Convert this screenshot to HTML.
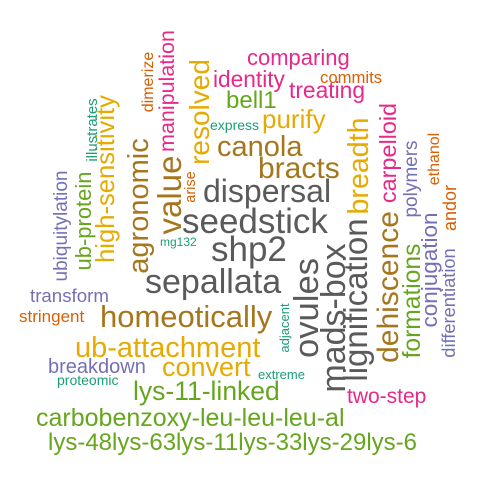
<!DOCTYPE html>
<html><head><meta charset="utf-8"><style>
html,body{margin:0;padding:0;background:#fff;}
svg{display:block;font-family:"Liberation Sans",Arial,sans-serif;}
</style></head><body>
<svg width="500" height="500" viewBox="0 0 500 500">
<g>
<text x="182" y="233" font-size="35" fill="#5a5a5a">seedstick</text>
<text x="211" y="261" font-size="35" fill="#5a5a5a">shp2</text>
<text x="203" y="202" font-size="32" fill="#5a5a5a">dispersal</text>
<text x="145" y="293" font-size="34" fill="#5a5a5a">sepallata</text>
<text x="100" y="327" font-size="31" fill="#A6761D">homeotically</text>
<text x="75" y="357" font-size="29" fill="#E6AB02">ub-attachment</text>
<text x="162" y="376" font-size="27" fill="#E6AB02">convert</text>
<text x="48" y="373" font-size="20" fill="#7570B3">breakdown</text>
<text x="57" y="385" font-size="14" fill="#1B9E77">proteomic</text>
<text x="258" y="379" font-size="13" fill="#1B9E77">extreme</text>
<text x="133" y="400" font-size="26.5" fill="#66A61E">lys-11-linked</text>
<text x="347" y="403" font-size="21" fill="#E7298A">two-step</text>
<text x="36" y="426" font-size="25" fill="#66A61E">carbobenzoxy-leu-leu-leu-al</text>
<text x="48" y="450" font-size="24" fill="#66A61E">lys-48lys-63lys-11lys-33lys-29lys-6</text>
<text x="30" y="302" font-size="18.7" fill="#7570B3">transform</text>
<text x="19" y="322" font-size="17" fill="#D95F02">stringent</text>
<text x="217" y="156" font-size="29" fill="#A6761D">canola</text>
<text x="258" y="178" font-size="30" fill="#A6761D">bracts</text>
<text x="262" y="128" font-size="26" fill="#E6AB02">purify</text>
<text x="210" y="130" font-size="14" fill="#1B9E77">express</text>
<text x="226" y="108" font-size="24" fill="#66A61E">bell1</text>
<text x="213" y="87" font-size="22.7" fill="#E7298A">identity</text>
<text x="289" y="98" font-size="22.8" fill="#E7298A">treating</text>
<text x="320" y="83" font-size="16.7" fill="#D95F02">commits</text>
<text x="247" y="65" font-size="22" fill="#E7298A">comparing</text>
<text x="160" y="246" font-size="12" fill="#1B9E77">mg132</text>
</g>
<g text-anchor="middle">
<text transform="translate(148,206) rotate(-90)" font-size="29" fill="#A6761D">agronomic</text>
<text transform="translate(181,195) rotate(-90)" font-size="33" fill="#A6761D">value</text>
<text transform="translate(114,179) rotate(-90)" font-size="25.6" fill="#E6AB02">high-sensitivity</text>
<text transform="translate(91,221) rotate(-90)" font-size="22" fill="#66A61E">ub-protein</text>
<text transform="translate(67,226) rotate(-90)" font-size="19" fill="#7570B3">ubiquitylation</text>
<text transform="translate(97,130) rotate(-90)" font-size="15" fill="#1B9E77">illustrates</text>
<text transform="translate(153,82) rotate(-90)" font-size="16" fill="#D95F02">dimerize</text>
<text transform="translate(174,91) rotate(-90)" font-size="21.5" fill="#E7298A">manipulation</text>
<text transform="translate(209,112) rotate(-90)" font-size="28" fill="#E6AB02">resolved</text>
<text transform="translate(195,187) rotate(-90)" font-size="14.5" fill="#D95F02">arise</text>
<text transform="translate(368,166) rotate(-90)" font-size="28.6" fill="#E6AB02">breadth</text>
<text transform="translate(396,153) rotate(-90)" font-size="23.4" fill="#E7298A">carpelloid</text>
<text transform="translate(417,179) rotate(-90)" font-size="19" fill="#7570B3">polymers</text>
<text transform="translate(439,159) rotate(-90)" font-size="16" fill="#D95F02">ethanol</text>
<text transform="translate(456,208) rotate(-90)" font-size="18" fill="#D95F02">andor</text>
<text transform="translate(437,270) rotate(-90)" font-size="22.5" fill="#7570B3">conjugation</text>
<text transform="translate(455,303) rotate(-90)" font-size="18.3" fill="#7570B3">differentiation</text>
<text transform="translate(420,301) rotate(-90)" font-size="24.6" fill="#66A61E">formations</text>
<text transform="translate(398,287) rotate(-90)" font-size="30" fill="#A6761D">dehiscence</text>
<text transform="translate(367,300) rotate(-90)" font-size="33" fill="#5a5a5a">lignification</text>
<text transform="translate(345,318) rotate(-90)" font-size="34" fill="#5a5a5a">mads-box</text>
<text transform="translate(318,308) rotate(-90)" font-size="34.6" fill="#5a5a5a">ovules</text>
<text transform="translate(289,328) rotate(-90)" font-size="13" fill="#1B9E77">adjacent</text>
</g>
</svg>
</body></html>
